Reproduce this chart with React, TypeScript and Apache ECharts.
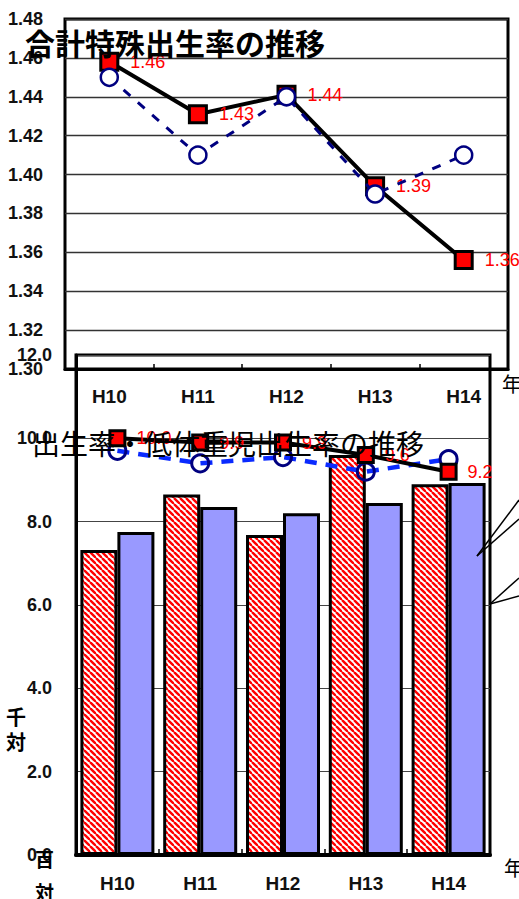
import React, { useEffect, useRef } from 'react';
import * as echarts from 'echarts';

// ---- data ----
const years = ['H10', 'H11', 'H12', 'H13', 'H14'];
// 合計特殊出生率 (top chart)
const tfrRed = [1.458, 1.431, 1.441, 1.394, 1.356];
const tfrBlue = [1.45, 1.41, 1.44, 1.39, 1.41];
// 出生率 (lower chart, lines, 千対)
const birthRed = [10.0, 9.9, 9.9, 9.6, 9.2];
const birthBlue = [9.7, 9.4, 9.55, 9.2, 9.5];
// 低体重児出生率 (lower chart, bars, 百対)
const lowWeightRed = [7.32, 8.65, 7.68, 9.6, 8.9];
const lowWeightBlue = [7.75, 8.35, 8.2, 8.45, 8.93];

const topTitle = '合計特殊出生率の推移';
const lowerTitle = '出生率・低体重児出生率の推移';

const LAT = '"Liberation Sans", Arial, sans-serif';
const CJK = '"Noto Sans CJK JP", sans-serif';

function makeHatch(): HTMLCanvasElement {
  const c = document.createElement('canvas');
  c.width = 6;
  c.height = 6;
  const ctx = c.getContext('2d')!;
  ctx.fillStyle = '#ffffff';
  ctx.fillRect(0, 0, 6, 6);
  ctx.strokeStyle = '#ff0000';
  ctx.lineWidth = 2.4;
  for (const k of [-6, 0, 6]) {
    ctx.beginPath();
    ctx.moveTo(k, 0);
    ctx.lineTo(k + 6, 6);
    ctx.stroke();
  }
  return c;
}

export default function App() {
  const ref = useRef<HTMLDivElement>(null);
  useEffect(() => {
    if (!ref.current) return;
    const chart = echarts.init(ref.current, null, { renderer: 'svg' });
    const hatch = makeHatch();
    const axisLabelStyle = { fontFamily: LAT, fontWeight: 'bold' as const, color: '#111', fontSize: 18 };
    const option: any = {
      animation: false,
      backgroundColor: '#ffffff',
      grid: [
        { left: 65, top: 19, width: 443, height: 350, show: true, borderColor: '#000', borderWidth: 3, backgroundColor: 'rgba(0,0,0,0)', z: 4 },
        { left: 76, top: 355, width: 414, height: 500, show: true, borderColor: '#000', borderWidth: 3, backgroundColor: '#ffffff', z: 0 },
      ],
      xAxis: [
        {
          gridIndex: 0, type: 'category', data: years, z: 4,
          axisLine: { show: true, lineStyle: { color: '#000', width: 3 } },
          axisTick: { show: true, inside: true, length: 5, lineStyle: { color: '#000', width: 1.5 } },
          axisLabel: { ...axisLabelStyle, fontSize: 19, margin: 18 },
        },
        {
          gridIndex: 1, type: 'category', data: years, z: 1,
          axisLine: { show: true, lineStyle: { color: '#000', width: 4 } },
          axisTick: { show: true, inside: true, length: 6, lineStyle: { color: '#000', width: 1.5 } },
          axisLabel: { ...axisLabelStyle, fontSize: 19, margin: 19 },
        },
      ],
      yAxis: [
        {
          gridIndex: 0, type: 'value', min: 1.3, max: 1.48, interval: 0.02, z: 4,
          axisLine: { show: false }, axisTick: { show: false },
          splitLine: { show: true, lineStyle: { color: '#333', width: 1.3 } },
          axisLabel: { ...axisLabelStyle, margin: 22, formatter: (v: number) => v.toFixed(2) },
        },
        {
          gridIndex: 1, type: 'value', min: 0, max: 12, interval: 2, z: 1,
          axisLine: { show: true, lineStyle: { color: '#000', width: 3 } }, axisTick: { show: false },
          splitLine: { show: true, lineStyle: { color: '#444', width: 1.2 } },
          axisLabel: { ...axisLabelStyle, margin: 24, formatter: (v: number) => v.toFixed(1) },
        },
      ],
      series: [
        {
          type: 'bar', xAxisIndex: 1, yAxisIndex: 1, data: lowWeightRed, barWidth: 37, barGap: '0%', z: 2,
          itemStyle: { color: { image: hatch, repeat: 'repeat', imageWidth: 6, imageHeight: 6 }, borderColor: '#000', borderWidth: 3 },
        },
        {
          type: 'bar', xAxisIndex: 1, yAxisIndex: 1, data: lowWeightBlue, barWidth: 37, barGap: '0%', z: 2,
          itemStyle: { color: '#9999ff', borderColor: '#000', borderWidth: 3 },
        },
        {
          type: 'line', xAxisIndex: 1, yAxisIndex: 1, data: birthBlue, z: 3, clip: false,
          symbol: 'circle', symbolSize: 17, showAllSymbol: true,
          lineStyle: { color: '#0a2aff', width: 4.5, type: [12, 9] },
          itemStyle: { color: 'rgba(255,255,255,0)', borderColor: '#000080', borderWidth: 3 },
        },
        {
          type: 'line', xAxisIndex: 1, yAxisIndex: 1, data: birthRed, z: 4, clip: false,
          symbol: 'rect', symbolSize: 15, showAllSymbol: true,
          lineStyle: { color: '#000', width: 4 },
          itemStyle: { color: '#ff0000', borderColor: '#000', borderWidth: 3 },
          label: { show: true, position: 'right', distance: 10, color: '#ff0000', fontSize: 18, fontFamily: LAT, formatter: (p: any) => Number(p.value).toFixed(1) },
        },
        {
          type: 'line', xAxisIndex: 0, yAxisIndex: 0, data: tfrRed, z: 5, clip: false,
          symbol: 'rect', symbolSize: 17, showAllSymbol: true,
          lineStyle: { color: '#000', width: 4 },
          itemStyle: { color: '#ff0000', borderColor: '#000', borderWidth: 3 },
          label: { show: true, position: 'right', distance: 11, color: '#ff0000', fontSize: 18, fontFamily: LAT, formatter: (p: any) => Number(p.value).toFixed(2) },
        },
        {
          type: 'line', xAxisIndex: 0, yAxisIndex: 0, data: tfrBlue, z: 6, clip: false,
          symbol: 'circle', symbolSize: 17, showAllSymbol: true,
          lineStyle: { color: '#000080', width: 3, type: [9, 10] },
          itemStyle: { color: '#ffffff', borderColor: '#000080', borderWidth: 2.5 },
        },
      ],
      graphic: [
        { type: 'text', x: 25, y: 42, z: 20, style: { text: topTitle, fill: '#000', font: `bold 30px ${CJK}`, textAlign: 'left', textVerticalAlign: 'middle', align: 'left', verticalAlign: 'middle' } },
        { type: 'text', x: 32, y: 443, z: 20, style: { text: lowerTitle, fill: '#000', font: `28px ${CJK}`, textAlign: 'left', textVerticalAlign: 'middle', align: 'left', verticalAlign: 'middle' } },
        { type: 'text', x: 502, y: 383, z: 20, style: { text: '年', fill: '#000', font: `20px ${CJK}`, textAlign: 'left', textVerticalAlign: 'middle', align: 'left', verticalAlign: 'middle' } },
        { type: 'text', x: 504, y: 867, z: 20, style: { text: '年', fill: '#000', font: `20px ${CJK}`, textAlign: 'left', textVerticalAlign: 'middle', align: 'left', verticalAlign: 'middle' } },
        { type: 'text', x: 6, y: 716, z: 20, style: { text: '千', fill: '#000', font: `bold 20px ${CJK}`, textAlign: 'left', textVerticalAlign: 'middle', align: 'left', verticalAlign: 'middle' } },
        { type: 'text', x: 6, y: 741, z: 20, style: { text: '対', fill: '#000', font: `bold 20px ${CJK}`, textAlign: 'left', textVerticalAlign: 'middle', align: 'left', verticalAlign: 'middle' } },
        { type: 'text', x: 35, y: 858, z: 20, style: { text: '百', fill: '#000', font: `bold 19px ${CJK}`, textAlign: 'left', textVerticalAlign: 'middle', align: 'left', verticalAlign: 'middle' } },
        { type: 'text', x: 35, y: 891, z: 20, style: { text: '対', fill: '#000', font: `bold 19px ${CJK}`, textAlign: 'left', textVerticalAlign: 'middle', align: 'left', verticalAlign: 'middle' } },
        { type: 'line', z: 20, shape: { x1: 477, y1: 556, x2: 519, y2: 500 }, style: { stroke: '#000', lineWidth: 1.5 } },
        { type: 'line', z: 20, shape: { x1: 477, y1: 556, x2: 519, y2: 519 }, style: { stroke: '#000', lineWidth: 1.5 } },
        { type: 'line', z: 20, shape: { x1: 490, y1: 604, x2: 519, y2: 578 }, style: { stroke: '#000', lineWidth: 1.5 } },
        { type: 'line', z: 20, shape: { x1: 490, y1: 604, x2: 519, y2: 596 }, style: { stroke: '#000', lineWidth: 1.5 } },
      ],
    };
    chart.setOption(option);
    return () => chart.dispose();
  }, []);
  return <div ref={ref} style={{ position: 'absolute', left: 0, top: 0, width: 519, height: 899 }} />;
}
